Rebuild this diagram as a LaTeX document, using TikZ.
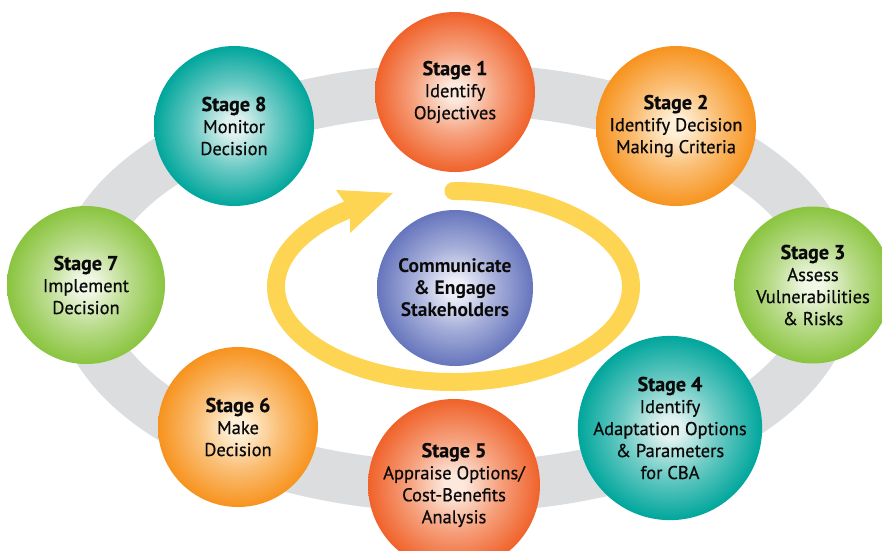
\documentclass[tikz,border=0pt]{standalone}
\usepackage{fontspec}
\setmainfont{PT Sans}
\definecolor{ringgray}{HTML}{DCDDDF}
\definecolor{loopyellow}{HTML}{FED552}
\definecolor{redin}{HTML}{FCE8DC}
\definecolor{redout}{HTML}{F0622A}
\definecolor{orin}{HTML}{FEEFD6}
\definecolor{orout}{HTML}{F7931E}
\definecolor{grin}{HTML}{F0F7E4}
\definecolor{grout}{HTML}{8AC43F}
\definecolor{tein}{HTML}{E0F2F0}
\definecolor{teout}{HTML}{00A69C}
\definecolor{blin}{HTML}{ECEEF8}
\definecolor{blout}{HTML}{6675BD}
\definecolor{txt}{HTML}{0A0A0A}
\colorlet{ballin}{white}
\colorlet{ballmid}{white}
\colorlet{ballout}{black}
\pgfdeclareradialshading[ballin,ballmid,ballout]{ball}{\pgfpoint{0bp}{0bp}}{color(0bp)=(ballin); color(3bp)=(ballin); color(13bp)=(ballmid); color(25bp)=(ballout); color(50bp)=(ballout)}
\tikzset{
  stageball/.style n args={3}{circle, inner sep=0pt, minimum size=#1,
    /utils/exec={\colorlet{ballin}{#2}\colorlet{ballmid}{#2!48!#3}\colorlet{ballout}{#3}},
    shading=ball, text=txt, align=center,
    font=\fontsize{18.5}{22}\selectfont\addfontfeature{FakeBold=0.6}},
}
\newcommand\hdline[1]{{\fontsize{20}{22}\selectfont\bfseries #1}}
\begin{document}
\begin{tikzpicture}[x=1pt,y=-1pt]
\useasboundingbox (0,0) rectangle (882,550);
\clip (0,0) rectangle (882,550);
\fill[white] (0,0) rectangle (882,550);
% gray ring
\draw[ringgray, line width=51pt] (455,288) ellipse [x radius=375, y radius=199];
% yellow loop
\draw[loopyellow, line width=18pt, line cap=round]
  plot[domain=90:-234, samples=160, smooth] ({453.5+177.5*cos(\x)}, {286.5-95.5*sin(\x)});
\coordinate (tip) at (393,193);
\coordinate (barbA) at (336,190);
\coordinate (notch) at (350,210);
\coordinate (barbB) at (350,233);
\fill[loopyellow] (tip) -- (barbA) -- (notch) -- (barbB) -- cycle;
% stage circles
\node[stageball={160pt}{redin}{redout}] (s1) at (455,92) {\hdline{Stage 1}\\Identify\\Objectives};
\node[stageball={160pt}{orin}{orout}] (s2) at (676,126) {\hdline{Stage 2}\\Identify Decision\\Making Criteria};
\node[stageball={157pt}{grin}{grout}] (s3) at (813,285) {\hdline{Stage 3}\\Assess\\Vulnerabilities\\\& Risks};
\node[stageball={160pt}{tein}{teout}] (s4) at (670,428) {\hdline{Stage 4}\\Identify\\Adaptation Options\\\& Parameters\\for CBA};
\node[stageball={172pt}{redin}{redout}] (s5) at (454,485) {\hdline{Stage 5}\\Appraise Options/\\Cost-Benefits\\Analysis};
\node[stageball={160pt}{orin}{orout}] (s6) at (238,427) {\hdline{Stage 6}\\Make\\Decision};
\node[stageball={158pt}{grin}{grout}] (s7) at (86,285) {\hdline{Stage 7}\\Implement\\Decision};
\node[stageball={160pt}{tein}{teout}] (s8) at (234,126) {\hdline{Stage 8}\\Monitor\\Decision};
\node[stageball={156pt}{blin}{blout}, font=\fontsize{19.5}{22}\selectfont\bfseries] (ctr) at (455,288) {Communicate\\\& Engage\\Stakeholders};
\end{tikzpicture}
\end{document}
